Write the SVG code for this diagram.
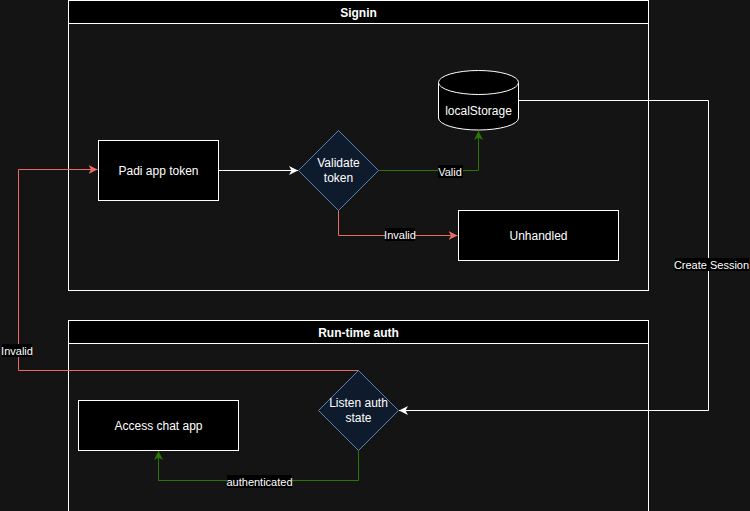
<svg xmlns="http://www.w3.org/2000/svg" width="750" height="511" viewBox="0 0 750 511">
<defs>
<style>
text{font-family:"Liberation Sans",Arial,sans-serif;font-size:12px;fill:#ffffff;text-anchor:middle;dominant-baseline:central}
.title{font-weight:bold}
.lbl{font-size:11px}
.box{fill:#000000;stroke:#ffffff;stroke-width:1}
.dia{fill:#0e1b2d;stroke:#5b80b2;stroke-width:1}
.lane{fill:none;stroke:#ffffff;stroke-width:1}
.edge{fill:none;stroke-width:1}
.w{stroke:#ffffff}
.g{stroke:#2d7600}
.r{stroke:#ea6b66}
</style>
<marker id="aw" markerUnits="userSpaceOnUse" markerWidth="12" markerHeight="10" refX="9" refY="4.5" orient="auto"><path d="M0,0 L9,4.5 L0,9 L2.5,4.5 Z" fill="#ffffff"/></marker>
<marker id="ag" markerUnits="userSpaceOnUse" markerWidth="12" markerHeight="10" refX="9" refY="4.5" orient="auto"><path d="M0,0 L9,4.5 L0,9 L2.5,4.5 Z" fill="#2d7600"/></marker>
<marker id="ar" markerUnits="userSpaceOnUse" markerWidth="12" markerHeight="10" refX="9" refY="4.5" orient="auto"><path d="M0,0 L9,4.5 L0,9 L2.5,4.5 Z" fill="#ea6b66"/></marker>
</defs>
<rect x="0" y="0" width="750" height="511" fill="#141414"/>

<g id="lane-signin">
<rect x="68.5" y="0.5" width="580" height="290" class="lane"/>
<rect x="68.5" y="0.5" width="580" height="23" class="box"/>
<text x="358.5" y="12.5" class="title">Signin</text>
</g>
<g id="lane-runtime">
<rect x="68.5" y="320.5" width="580" height="200" class="lane"/>
<rect x="68.5" y="320.5" width="580" height="23" class="box"/>
<text x="358.5" y="332.5" class="title">Run-time auth</text>
</g>

<g id="connectors">
<path d="M218.5,170.5 L298,170.5" class="edge w" marker-end="url(#aw)"/>
<path d="M378,170.5 L478.5,170.5 L478.5,131" class="edge g" marker-end="url(#ag)"/>
<path d="M338.5,210 L338.5,235.5 L457.5,235.5" class="edge r" marker-end="url(#ar)"/>
<path d="M518.5,100.5 L708.5,100.5 L708.5,410.5 L399,410.5" class="edge w" marker-end="url(#aw)"/>
<path d="M358.5,370.5 L18.5,370.5 L18.5,169.5 L97.5,169.5" class="edge r" marker-end="url(#ar)"/>
<path d="M358.5,450 L358.5,480.5 L158.5,480.5 L158.5,451" class="edge g" marker-end="url(#ag)"/>
<rect x="438" y="165" width="25" height="13" fill="#000"/>
<text x="450" y="172" class="lbl">Valid</text>
<rect x="385" y="228" width="30" height="13" fill="#000"/>
<text x="400" y="235" class="lbl">Invalid</text>
<rect x="675" y="258" width="74" height="13" fill="#000"/>
<text x="711.5" y="265" class="lbl">Create Session</text>
<rect x="2" y="344" width="30" height="13" fill="#000"/>
<text x="17" y="351" class="lbl">Invalid</text>
<rect x="227" y="475" width="65" height="13" fill="#000"/>
<text x="259.5" y="482" class="lbl">authenticated</text>
</g>

<g id="node-padi">
<rect x="98.5" y="140.5" width="120" height="60" class="box"/>
<text x="158.5" y="170.5">Padi app token</text>
</g>
<g id="node-validate">
<path d="M338.5,130.5 L378.5,170.5 L338.5,210.5 L298.5,170.5 Z" class="dia"/>
<text x="338.5" y="163">Validate</text>
<text x="338.5" y="178">token</text>
</g>
<g id="node-localstorage">
<path d="M438.5,82.5 L438.5,118 A40,12 0 0 0 518.5,118 L518.5,82.5" class="box"/>
<ellipse cx="478.5" cy="82.5" rx="40" ry="12" class="box"/>
<text x="478.5" y="110.5">localStorage</text>
</g>
<g id="node-unhandled">
<rect x="458.5" y="210.5" width="160" height="50" class="box"/>
<text x="538.5" y="235.5">Unhandled</text>
</g>
<g id="node-listen">
<path d="M358.5,370.5 L398.5,410.5 L358.5,450.5 L318.5,410.5 Z" class="dia"/>
<text x="358.5" y="402.5">Listen auth</text>
<text x="358.5" y="417.5">state</text>
</g>
<g id="node-access">
<rect x="78.5" y="400.5" width="160" height="50" class="box"/>
<text x="158.5" y="425.5">Access chat app</text>
</g>
</svg>
